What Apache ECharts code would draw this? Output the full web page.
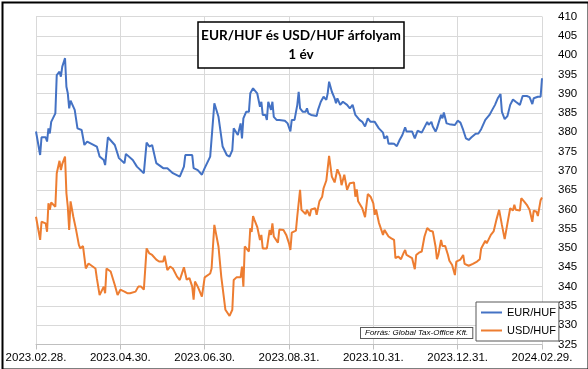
<!DOCTYPE html>
<html>
<head>
<meta charset="utf-8">
<script src="https://cdn.jsdelivr.net/npm/echarts@6/dist/echarts.min.js"></script>
<style>html,body{margin:0;padding:0;background:#fff}#c{width:588px;height:369px}</style>
</head>
<body>
<div id="c"></div>
<script>
// x values: days after 2023.02.28.
const tickLabels = ['2023.02.28.','2023.04.30.','2023.06.30.','2023.08.31.','2023.10.31.','2023.12.31.','2024.02.29.'];
const seriesNames = ['EUR/HUF','USD/HUF'];

const eurDays = [0,3,4,7,8,9,10,11,14,15,17,18,19,21,22,23,24,25,28,30,33,35,37,44,46,49,50,52,57,60,64,65,70,73,78,80,82,84,87,92,95,99,104,107,108,113,114,117,120,122,123,126,129,132,135,138,140,142,143,146,148,149,150,152,154,155,157,158,160,162,163,164,166,167,168,170,171,172,174,176,180,182,184,185,187,189,190,191,193,195,196,197,199,203,204,206,208,210,211,212,214,216,217,218,220,222,225,227,229,231,232,234,236,238,240,242,245,248,251,252,254,255,257,259,261,263,265,267,268,272,273,274,276,279,280,283,284,286,287,289,290,293,294,295,297,299,303,305,307,309,311,313,315,318,320,322,325,326,328,330,332,334,336,337,339,341,343,345,347,350,352,355,357,359,360,363,365,366];
const eurVals = [380.2,374.1,378.7,378.7,377.6,381,379.7,382.7,384.9,394.8,395.7,394.4,397,399.2,391.8,390.1,386.2,388.2,385.8,381,380.6,376.7,377.6,376.3,373.7,372.8,371.5,378.7,376.7,373.3,372,374.4,372.8,371.1,369.4,377.3,376.3,376.7,372,370.7,370.7,369.4,368.5,371.1,374.1,374.1,370.7,370.2,369,370.7,371.1,373.7,387.5,384,376.3,374.1,373.7,375.4,381,379.3,382.3,378.4,383.6,385.3,385.3,390.1,391.4,391.4,390.1,386.6,387.9,384.5,384.5,383.2,387.9,385.8,387.9,384,383.2,383.2,383,382.3,380.2,383.2,383.2,387.1,390.5,386.2,385.3,385.3,386.2,384.9,384.5,384.2,385.8,387.9,389.2,388.4,390.1,393.1,390.5,388.8,387.5,388.8,387.1,387.9,387.1,386.2,387.1,384.5,384.9,383.2,382.7,381.5,383.6,382.7,382.7,381,379.9,378.4,379,377,377.1,377,376.4,378,379.3,381.3,380.2,380.2,380.2,378.4,380.4,379.9,379.6,382.7,381.9,382.7,381.5,380.2,381,384.5,383.6,385.1,382.3,382.1,381.9,383,382.5,380.6,378.4,378,378.7,379.6,379.7,380.8,383.2,382.7,384.5,385.8,387.1,388.8,389.9,385.3,383.4,384.2,387.1,388.5,387.9,387.1,389.4,389.4,389.1,387.3,388.8,389.2,389.2,394];

const usdDays = [0,3,4,7,8,9,10,11,14,15,17,18,19,21,22,23,24,25,27,29,31,32,34,36,38,43,44,46,49,50,51,54,57,59,61,64,66,68,69,72,74,76,78,80,82,84,85,87,89,92,93,95,97,99,102,104,107,109,111,113,114,115,117,120,122,126,127,129,132,134,137,140,142,143,145,148,149,150,151,154,155,156,157,158,160,162,163,164,167,169,170,171,172,175,176,179,181,183,184,185,188,189,191,192,195,196,198,199,202,203,205,207,208,210,211,212,214,216,218,220,221,223,225,227,230,231,232,233,236,238,240,242,244,245,246,248,251,252,255,257,259,260,262,264,266,267,268,269,272,274,275,277,279,281,283,285,287,289,290,291,293,294,296,298,299,301,303,304,307,309,310,311,313,316,319,321,322,325,326,329,331,333,335,337,338,339,341,343,345,346,347,350,351,353,355,357,359,360,362,363,365,366];
const usdVals = [358.1,352.1,356.8,356.4,354.2,361.6,359.9,361.8,360.7,369.4,372.6,370.2,371.8,373.7,364.2,360.7,354.7,362.1,358.1,354.7,350.8,349.9,350.5,344.7,346,344.7,342.2,337.8,340,338.3,344.7,343.9,340.4,337.8,339.2,338.7,338.3,338.3,337.8,338.7,340,340,339.2,349.9,348.6,348.2,348.2,347,346.5,346.5,348,344.3,345.2,344.7,342.6,341.7,345,341.8,342.2,340,336.6,341.3,340,337.4,342.4,343.4,344.7,356,350.4,342.6,334,332.4,334,341.7,342.4,342.4,345.2,340,350.4,349.1,355.2,354.2,358.3,357.3,355.5,352.1,353.4,349.9,349.9,354.7,353.4,356.4,353,351.4,354.8,354.7,353.4,351.2,349.5,354,354.5,358.3,365.1,359.9,358.8,359.9,358.3,360,360.3,358.6,362.1,363.3,365.5,367.5,367.8,373.9,368.5,367,370.4,368.7,366.3,369,365.1,366.8,367,363.3,365.2,362.1,360.3,358,364,363.3,361.6,358.6,360,356.6,353.4,354.7,353,352.5,352.1,347.4,347.8,347.1,348.8,349.5,348.2,348.2,347.4,344.5,348.2,348.8,349.1,353,355.2,354.5,354.3,350.4,347.1,348.2,352.1,350.5,350.5,348.2,346.7,345.6,343,346.5,347,348.2,345.9,346.2,345.4,345.9,346.5,347.1,349.9,351.9,351.2,353.4,354.3,357.3,359.9,356,356,352.3,356.4,360.3,359.7,361.2,359.9,359.7,362.9,362.1,361.2,359.9,356.8,359.7,359.4,358.3,362.4,363.1];

const yMin = 325, yMax = 410, yStep = 5;
const xStep = 61; // two months, in days
const xMax = 366;

const zip = (a, b) => a.map((d, i) => [d, b[i]]);
const FONT = '"Liberation Sans Narrow", "Liberation Sans", sans-serif';

const chart = echarts.init(document.getElementById('c'), null, {renderer: 'canvas'});
chart.setOption({
  animation: false,
  backgroundColor: '#fff',
  title: {
    text: 'EUR/HUF és USD/HUF árfolyam\n1 év',
    left: 298, top: 22, textAlign: 'center',
    borderColor: '#000', borderWidth: 1.5, backgroundColor: '#fff',
    padding: [4, 3, 4, 3],
    textStyle: {fontFamily: 'Lato, sans-serif', fontSize: 13.6, fontWeight: 'bold', color: '#000', lineHeight: 19, align: 'center'}
  },
  legend: {
    orient: 'vertical', left: 476, bottom: 28,
    data: seriesNames,
    icon: 'rect',
    backgroundColor: '#fff', borderColor: '#595959', borderWidth: 1,
    padding: [5, 3, 5, 5], itemGap: 7, itemWidth: 21, itemHeight: 2,
    textStyle: {fontFamily: FONT, fontSize: 11, color: '#000', padding: [0, 0, 0, 0]}
  },
  grid: {left: 36, right: 46, top: 16.5, bottom: 24.5},
  xAxis: {
    type: 'value', min: 0, max: xMax, interval: xStep,
    axisLine: {show: true, lineStyle: {color: '#bfbfbf', width: 1}},
    axisTick: {show: true, inside: false, length: 5, lineStyle: {color: '#bfbfbf'}},
    splitLine: {show: true, lineStyle: {color: '#d9d9d9', width: 1}},
    axisLabel: {
      margin: 7, color: '#000', fontFamily: FONT, fontSize: 11.5,
      showMinLabel: true, showMaxLabel: true, hideOverlap: false,
      formatter: v => tickLabels[Math.round(v / xStep)]
    }
  },
  yAxis: {
    type: 'value', position: 'right', min: yMin, max: yMax, interval: yStep,
    axisLine: {show: false}, axisTick: {show: false},
    splitLine: {show: true, lineStyle: {color: '#d9d9d9', width: 1}},
    axisLabel: {margin: 16, align: 'left', color: '#000', fontFamily: FONT, fontSize: 11.5,
      showMinLabel: true, showMaxLabel: true, hideOverlap: false}
  },
  series: [
    {name: seriesNames[0], type: 'line', data: zip(eurDays, eurVals), symbol: 'none',
     lineStyle: {color: '#4472C4', width: 2}, itemStyle: {color: '#4472C4'}},
    {name: seriesNames[1], type: 'line', data: zip(usdDays, usdVals), symbol: 'none',
     lineStyle: {color: '#ED7D31', width: 2}, itemStyle: {color: '#ED7D31'}}
  ],
  graphic: [
    {type: 'text', left: 360, top: 327, z: 10,
     style: {text: 'Forrás: Global Tax-Office Kft.', font: 'italic 8px "Liberation Sans", sans-serif', fill: '#000',
             backgroundColor: '#fff', borderColor: '#595959', borderWidth: 1, padding: [1, 4, 1, 4]}},
    {type: 'rect', left: 0, top: 0, z: 20, silent: true,
     shape: {x: 1, y: 1, width: 586, height: 367},
     style: {fill: 'none', stroke: '#000', lineWidth: 2}}
  ]
});
</script>
</body>
</html>
